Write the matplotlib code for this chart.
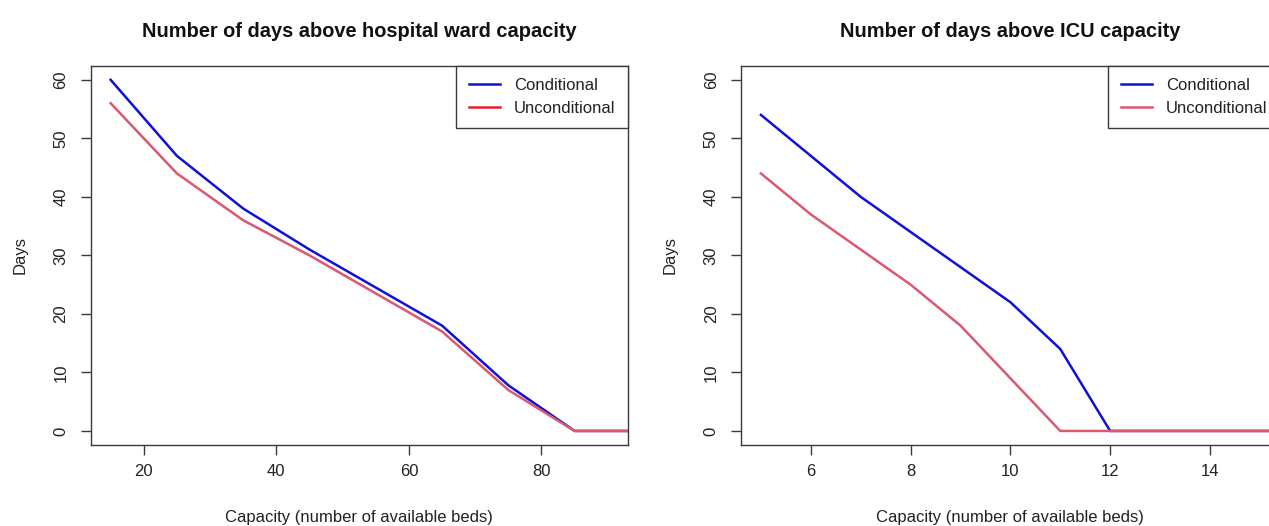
import matplotlib
matplotlib.use('Agg')
import matplotlib.pyplot as plt
from matplotlib.lines import Line2D

plt.rcParams['font.family'] = ['Liberation Sans', 'DejaVu Sans']

# hospital ward panel
ward_beds = [15, 25, 35, 45, 55, 65, 75, 85, 95]
ward_cond = [60, 47, 38, 31, 24.5, 18, 7.8, 0, 0]
ward_uncond = [56, 44, 36, 30, 23.5, 17, 7, 0, 0]

# ICU panel
icu_beds = [5, 6, 7, 8, 9, 10, 11, 12, 13, 14, 15, 16]
icu_cond = [54, 47, 40, 34, 28, 22, 14, 0, 0, 0, 0, 0]
icu_uncond = [44, 37, 31, 25, 18, 9, 0, 0, 0, 0, 0, 0]

BLUE = '#1010d8'
PINK = '#dc5870'
EDGE = '#3a3a3a'

fig = plt.figure(figsize=(12.69, 5.26), dpi=100)
ax1 = fig.add_axes([0.0715, 0.154, 0.4231, 0.721])
ax2 = fig.add_axes([0.5839, 0.154, 0.4246, 0.721])


def style(ax, xlim, xticks, title):
	pad_x = (xlim[1] - xlim[0]) * 0.04
	ax.set_xlim(xlim[0] - pad_x, xlim[1] + pad_x)
	ax.set_ylim(-2.4, 62.4)
	ax.set_xticks(xticks)
	ax.set_yticks(range(0, 61, 10))
	for s in ax.spines.values():
		s.set_color(EDGE)
		s.set_linewidth(1.0)
	ax.tick_params(axis='both', length=7, width=1.0, color=EDGE, labelsize=12, labelcolor='#222222')
	ax.tick_params(axis='x', pad=7)
	ax.tick_params(axis='y', pad=9, labelrotation=90)
	for lab in ax.get_yticklabels():
		lab.set_va('center')
	ax.set_title(title, fontsize=14.4, fontweight='bold', pad=21, color='#111111')
	ax.set_xlabel('Capacity (number of available beds)', fontsize=12, color='#222222')
	ax.xaxis.set_label_coords(0.5, -0.19)
	ax.xaxis.label.set_va('center')
	ax.set_ylabel('Days', fontsize=12, color='#222222')
	ax.yaxis.set_label_coords(-0.131, 0.5)
	ax.yaxis.label.set_va('center')


ax1.plot(ward_beds, ward_cond, color=BLUE, lw=1.8)
ax1.plot(ward_beds, ward_uncond, color=PINK, lw=1.8)
style(ax1, (15, 90), [20, 40, 60, 80], 'Number of days above hospital ward capacity')

ax2.plot(icu_beds, icu_cond, color=BLUE, lw=1.8)
ax2.plot(icu_beds, icu_uncond, color=PINK, lw=1.8)
style(ax2, (5, 15), [6, 8, 10, 12, 14], 'Number of days above ICU capacity')

for ax, ucol in [(ax1, '#e8202a'), (ax2, PINK)]:
	handles = [Line2D([], [], color=BLUE, lw=1.8), Line2D([], [], color=ucol, lw=1.8)]
	leg = ax.legend(handles, ['Conditional', 'Unconditional'], loc='upper right',
		borderaxespad=0, fancybox=False, framealpha=1, edgecolor=EDGE,
		fontsize=12, handlelength=1.9, handletextpad=0.8, borderpad=0.75,
		labelspacing=0.45)
	leg.get_frame().set_linewidth(1.0)
	for t in leg.get_texts():
		t.set_color('#222222')

fig.savefig('out.png', dpi=100)
